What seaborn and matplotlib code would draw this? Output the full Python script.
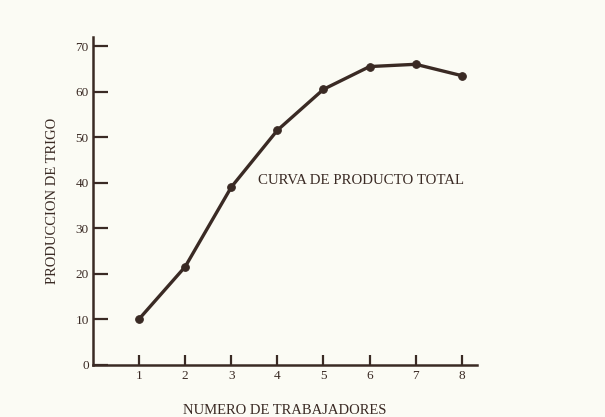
import matplotlib
matplotlib.use("Agg")
import matplotlib.pyplot as plt
import seaborn as sns
import pandas as pd

trabajadores = [1, 2, 3, 4, 5, 6, 7, 8]
produccion = [10, 21.5, 39, 51.5, 60.5, 65.5, 66, 63.5]
y_ticks = [0, 10, 20, 30, 40, 50, 60, 70]

df = pd.DataFrame({"trabajadores": trabajadores, "produccion": produccion})

sns.set_style("ticks")
plt.rcParams['font.family'] = ['Liberation Serif', 'DejaVu Serif']

bg = "#fbfbf4"
ink = "#3a2a24"

fig = plt.figure(figsize=(6.05, 4.17), dpi=100, facecolor=bg)
ax = fig.add_axes([93/605, 1-364.5/417, 384/605, (364.5-37)/417])
ax.set_facecolor(bg)

sns.lineplot(data=df, x="trabajadores", y="produccion", ax=ax, color=ink,
             linewidth=2.4, marker="o", markersize=5.5, markeredgecolor=ink,
             markerfacecolor=ink)

ax.set_xlim(0, 8.33)
ax.set_ylim(0, 72)
ax.set_xticks(trabajadores)
ax.set_yticks(y_ticks)
ax.set_xticklabels([str(v) for v in trabajadores])
ax.set_yticklabels([str(v) for v in y_ticks])

for s in ["top", "right"]:
    ax.spines[s].set_visible(False)
for s in ["left", "bottom"]:
    ax.spines[s].set_linewidth(1.8)
    ax.spines[s].set_color(ink)

ax.tick_params(axis="y", direction="in", length=11, width=1.6, colors=ink,
               labelsize=9.5, pad=3)
ax.tick_params(axis="x", direction="in", length=7, width=1.6, colors=ink,
               labelsize=9.5, pad=4)

ax.set_xlabel("NUMERO DE TRABAJADORES", fontsize=10.5, color=ink, labelpad=16)
ax.set_ylabel("PRODUCCION DE TRIGO", fontsize=10.5, color=ink, labelpad=12)

ax.text(3.58, 40.5, "CURVA DE PRODUCTO TOTAL", fontsize=10.7, color=ink,
        ha="left", va="center")

fig.savefig("out.png", dpi=100, facecolor=bg)
